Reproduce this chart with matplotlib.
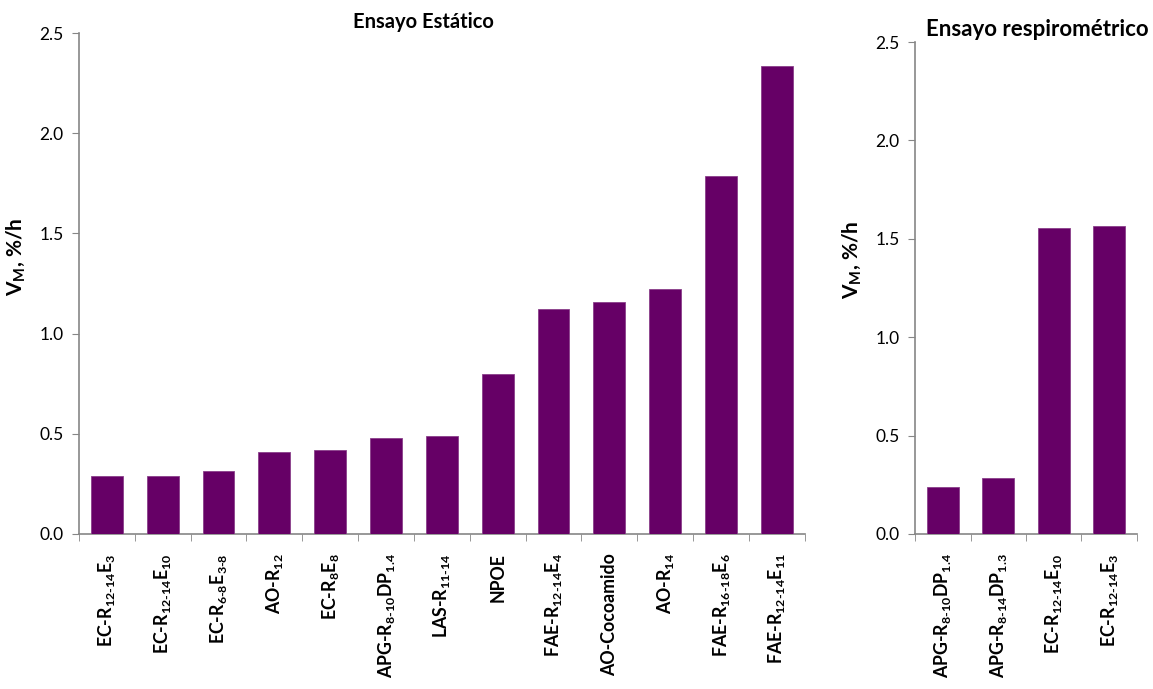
import matplotlib

matplotlib.use("Agg")
import matplotlib.pyplot as plt
import numpy as np

plt.rcParams["font.family"] = ["Lato", "DejaVu Sans"]
plt.rcParams["mathtext.fontset"] = "custom"
plt.rcParams["mathtext.rm"] = "Lato:bold"
plt.rcParams["mathtext.bf"] = "Lato:bold"
plt.rcParams["mathtext.it"] = "Lato:bold"

# Ensayo estatico
static_labels = [
    r"EC-R$_{\text{12-14}}$E$_{\text{3}}$",
    r"EC-R$_{\text{12-14}}$E$_{\text{10}}$",
    r"EC-R$_{\text{6-8}}$E$_{\text{3-8}}$",
    r"AO-R$_{\text{12}}$",
    r"EC-R$_{\text{8}}$E$_{\text{8}}$",
    r"APG-R$_{\text{8-10}}$DP$_{\text{1.4}}$",
    r"LAS-R$_{\text{11-14}}$",
    "NPOE",
    r"FAE-R$_{\text{12-14}}$E$_{\text{4}}$",
    "AO-Cocoamido",
    r"AO-R$_{\text{14}}$",
    r"FAE-R$_{\text{16-18}}$E$_{\text{6}}$",
    r"FAE-R$_{\text{12-14}}$E$_{\text{11}}$",
]
static_values = [0.29, 0.29, 0.313, 0.409, 0.419, 0.477, 0.49,
                 0.798, 1.122, 1.157, 1.225, 1.786, 2.334]

# Ensayo respirometrico
resp_labels = [
    r"APG-R$_{\text{8-10}}$DP$_{\text{1.4}}$",
    r"APG-R$_{\text{8-14}}$DP$_{\text{1.3}}$",
    r"EC-R$_{\text{12-14}}$E$_{\text{10}}$",
    r"EC-R$_{\text{12-14}}$E$_{\text{3}}$",
]
resp_values = [0.239, 0.286, 1.554, 1.565]

yticks = [0.0, 0.5, 1.0, 1.5, 2.0, 2.5]
bar_color = "#660066"
axis_color = "#868686"

fig = plt.figure(figsize=(11.53, 6.89), dpi=100)
fig.patch.set_facecolor("white")

ax1 = fig.add_axes([0.0685, 0.225, 0.6295, 0.727])
ax2 = fig.add_axes([0.7936, 0.225, 0.1925, 0.714])


def style_axis(ax, labels, values, title, title_size):
    n = len(values)
    x = np.arange(n)
    ax.bar(x, values, width=0.57, color=bar_color, edgecolor="#8a3f8a",
           linewidth=0.6, zorder=3)
    ax.set_xlim(-0.5, n - 0.5)
    ax.set_ylim(0, 2.5)
    ax.set_yticks(yticks)
    ax.set_yticklabels([f"{t:.1f}" for t in yticks], fontsize=12.5)
    ax.set_xticks(x)
    ax.set_xticklabels(labels, rotation=90, fontsize=12.8, fontweight="bold",
                       ha="center", va="top")
    ax.set_xticks(np.arange(n + 1) - 0.5, minor=True)
    ax.tick_params(axis="x", which="major", length=0, pad=14)
    ax.tick_params(axis="x", which="minor", length=5, color=axis_color,
                   direction="out")
    ax.tick_params(axis="y", length=5, color=axis_color, direction="out",
                   pad=6)
    for side in ("top", "right"):
        ax.spines[side].set_visible(False)
    for side in ("left", "bottom"):
        ax.spines[side].set_color(axis_color)
        ax.spines[side].set_linewidth(1.2)
    ax.set_ylabel(r"V$_{\text{M}}$, %/h", fontsize=15, fontweight="bold")
    ax.set_title(title, fontsize=title_size, fontweight="bold", pad=4)


style_axis(ax1, static_labels, static_values, "Ensayo Estático", 14.5)
ax1.title.set_x(0.474)
ax1.yaxis.set_label_coords(-0.0716, 0.553)
style_axis(ax2, resp_labels, resp_values, "Ensayo respirométrico", 16)
ax2.title.set_x(0.55)
ax2.yaxis.set_label_coords(-0.234, 0.557)

fig.savefig("out.png", dpi=100, facecolor="white")
